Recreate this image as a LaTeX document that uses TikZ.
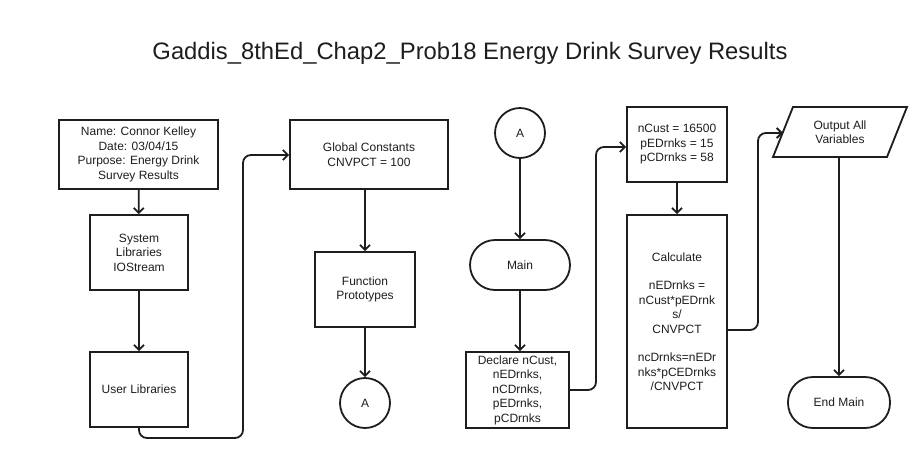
\documentclass[tikz,border=0pt]{standalone}
\usepackage{fontspec}
\setmainfont{Liberation Sans}
\usetikzlibrary{arrows.meta,shapes.geometric}
\definecolor{ink}{RGB}{30,30,30}
\tikzset{
  box/.style={draw=ink, line width=1.8pt, align=center, text=ink, font=\fontsize{12}{14.5}\selectfont, inner sep=2pt},
  term/.style={box, rounded corners=25pt},
  conn/.style={draw=ink, line width=1.8pt, -{Straight Barb[length=5pt,width=10pt,line width=1.8pt]}},
  elbow/.style={conn, rounded corners=8pt},
}
\begin{document}
\begin{tikzpicture}[x=1pt,y=-1pt]
\useasboundingbox[fill=white] (0,0) rectangle (916,464);
\node[text=ink, font=\fontsize{23.8}{26}\selectfont] (title) at (470,53) {Gaddis\_8thEd\_Chap2\_Prob18 Energy Drink Survey Results};

\node[box, minimum width=159pt, minimum height=69pt] (name) at (138.5,154.5) {Name: Connor Kelley\\Date: 03/04/15\\Purpose: Energy Drink\\Survey Results};
\node[box, minimum width=98pt, minimum height=75pt] (sys) at (139,252.5) {System\\Libraries\\IOStream};
\node[box, minimum width=98pt, minimum height=75pt] (user) at (139,389.5) {User Libraries};

\node[box, minimum width=158pt, minimum height=69pt] (glob) at (369,154.5) {Global Constants\\CNVPCT = 100};
\node[box, minimum width=100pt, minimum height=75pt] (func) at (365,289.5) {Function\\Prototypes};
\node[box, circle, minimum size=50pt] (a1) at (365,403) {A};

\node[box, circle, minimum size=50pt] (a2) at (520,133) {A};
\node[term, minimum width=100pt, minimum height=50pt] (main) at (520,265) {Main};
\node[box, minimum width=103pt, minimum height=76pt] (decl) at (517.5,390) {Declare nCust,\\nEDrnks,\\nCDrnks,\\pEDrnks,\\pCDrnks};

\node[box, minimum width=100pt, minimum height=75pt] (ncust) at (677,144.5) {nCust = 16500\\pEDrnks = 15\\pCDrnks = 58};
\node[box, minimum width=100pt, minimum height=213pt] (calc) at (677,321.5) {Calculate\\[14pt]nEDrnks =\\nCust*pEDrnk\\s/\\CNVPCT\\[14pt]ncDrnks=nEDr\\nks*pCEDrnks\\/CNVPCT};

% parallelogram (output)
\node[align=center, text=ink, font=\fontsize{12}{14.5}\selectfont, minimum width=94pt, minimum height=50pt, inner sep=0pt] (out) at (840,132) {Output All\\Variables};
\draw[draw=ink, line width=1.8pt, line join=miter] (793,107) -- (907,107) -- (887,157) -- (773,157) -- cycle;
\coordinate (outin) at (783,133);
\node[term, minimum width=102pt, minimum height=51pt] (endm) at (839,402.5) {End Main};

\draw[conn] (name) -- (sys);
\draw[conn] (sys) -- (user);
\draw[conn] (glob.south -| func.north) -- (func);
\draw[conn] (func) -- (a1);
\draw[conn] (a2) -- (main);
\draw[conn] (main.south) -- (main.south |- decl.north);
\draw[conn] (ncust) -- (calc);
\draw[conn] (out.south -| endm.north) -- (endm);

\coordinate (c1) at (243,438);
\coordinate (c2) at (243,155);
\draw[elbow] (user.south) |- (c1) -- (c2) -- (glob.west |- c2);
\coordinate (d1) at (596,390);
\coordinate (d2) at (596,147);
\draw[elbow] (decl.east) -- (d1) -- (d2) -- (ncust.west |- d2);
\coordinate (e1) at (758,330);
\coordinate (e2) at (758,133);
\draw[elbow] (calc.east |- e1) -- (e1) -- (e2) -- (outin);
\end{tikzpicture}
\end{document}
